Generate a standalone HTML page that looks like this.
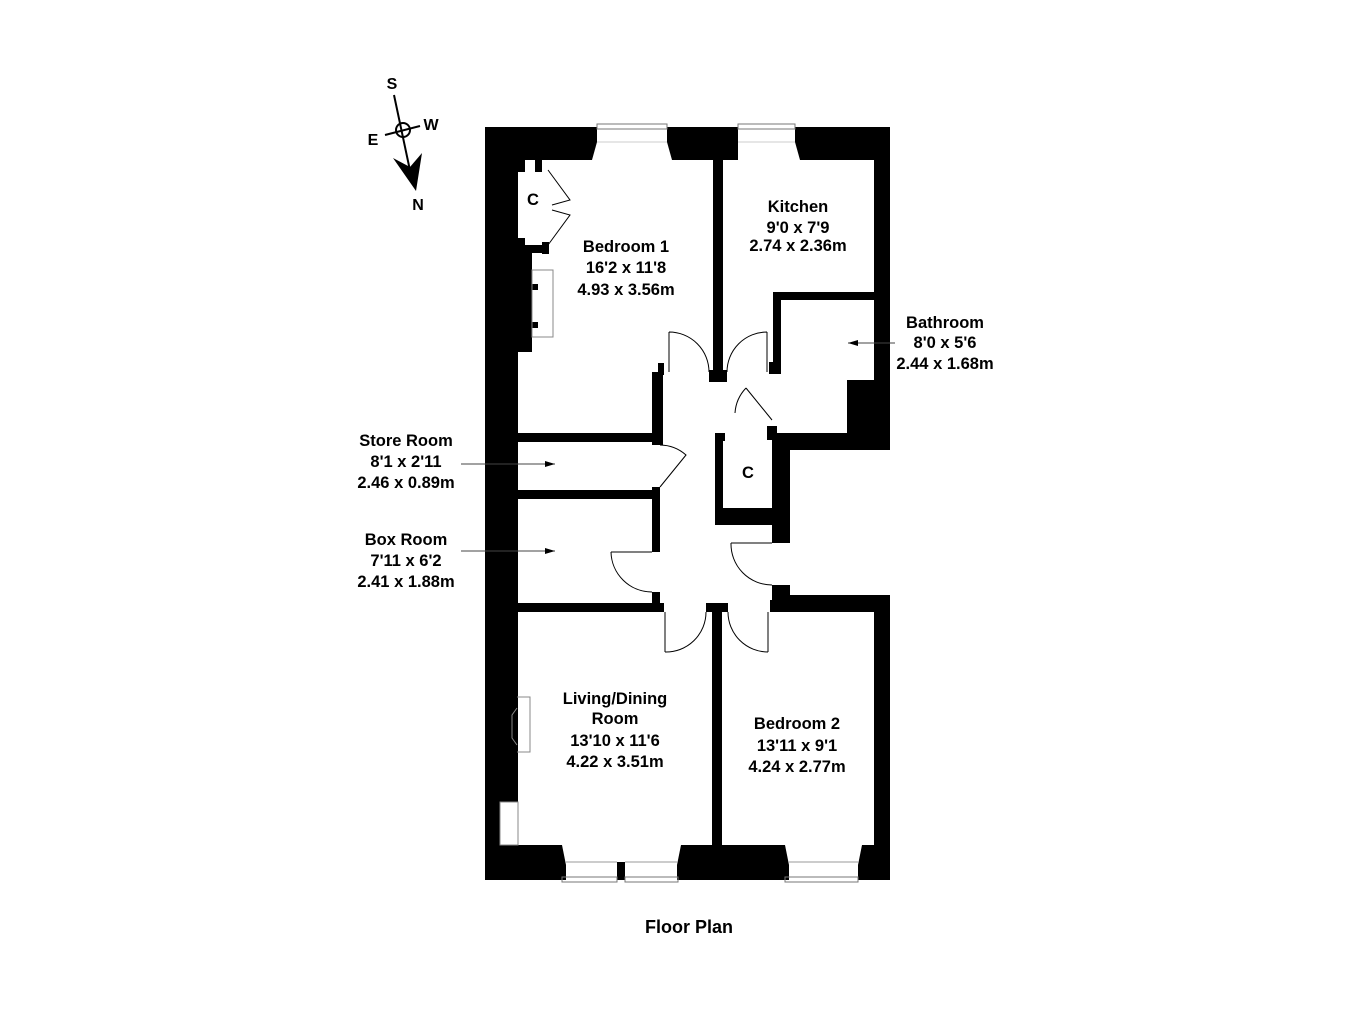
<!DOCTYPE html>
<html><head><meta charset="utf-8"><style>
html,body{margin:0;padding:0;background:#fff;}
svg{display:block;}
text{font-family:"Liberation Sans",Arial,sans-serif;font-weight:bold;fill:#000;}
</style></head><body>
<svg width="1350" height="1012" viewBox="0 0 1350 1012" xmlns="http://www.w3.org/2000/svg">
<rect width="1350" height="1012" fill="#fff"/>
<g fill="#000">
<polygon points="485,127 597,127 597,142 592,160 485,160"/>
<polygon points="667,127 738,127 738,160 672,160 667,142"/>
<polygon points="795,127 890,127 890,160 800,160 795,142"/>
<rect x="485" y="127" width="33" height="675"/>
<rect x="485" y="250" width="47" height="102"/>
<rect x="485" y="800" width="15" height="80"/>
<rect x="485" y="692" width="32" height="60"/>
<rect x="518" y="160" width="7" height="12"/><rect x="535" y="160" width="7" height="12"/>
<rect x="518" y="238" width="7" height="12"/><rect x="542" y="242" width="7" height="12"/>
<rect x="518" y="245" width="30" height="8"/>
<rect x="532" y="284" width="6" height="6"/><rect x="532" y="322" width="6" height="6"/>
<rect x="713" y="160" width="10" height="212"/>
<rect x="709" y="370" width="18" height="12"/>
<rect x="874" y="127" width="16" height="310"/>
<rect x="773" y="292" width="117" height="8"/>
<rect x="773" y="292" width="8" height="70"/>
<rect x="769" y="362" width="12" height="12"/>
<rect x="847" y="380" width="43" height="57"/>
<rect x="772" y="433" width="118" height="17"/>
<rect x="767" y="426" width="10" height="14"/>
<rect x="772" y="437" width="18" height="106"/>
<rect x="715" y="433" width="8" height="92"/>
<rect x="715" y="433" width="10" height="8"/>
<rect x="715" y="508" width="75" height="17"/>
<rect x="772" y="585" width="18" height="15"/>
<rect x="772" y="595" width="118" height="17"/>
<rect x="770" y="600" width="10" height="12"/>
<rect x="874" y="595" width="16" height="285"/>
<rect x="652" y="372" width="11" height="73"/>
<rect x="658" y="363" width="6" height="12"/>
<rect x="518" y="433" width="142" height="9"/>
<rect x="518" y="490" width="142" height="9"/>
<rect x="652" y="487" width="8" height="65"/>
<rect x="652" y="592" width="8" height="14"/>
<rect x="518" y="603" width="146" height="9"/>
<rect x="706" y="603" width="22" height="9"/>
<rect x="712" y="603" width="10" height="245"/>
<polygon points="485,845 562,845 566,865 566,880 485,880"/>
<rect x="617" y="862" width="8" height="18"/>
<polygon points="681,845 785,845 789,865 789,880 677,880 677,865"/>
<polygon points="862,845 890,845 890,880 858,880 858,865"/>
</g>
<g fill="none" stroke="#000" stroke-width="1">
<rect x="597" y="124" width="70" height="5" stroke="#777"/>
<rect x="738" y="124" width="57" height="5" stroke="#777"/>
<rect x="562" y="877" width="55" height="5" stroke="#777"/>
<rect x="625" y="877" width="53" height="5" stroke="#777"/>
<rect x="785" y="877" width="73" height="5" stroke="#777"/>
<line x1="566" y1="862" x2="617" y2="862" stroke="#999"/>
<line x1="625" y1="862" x2="677" y2="862" stroke="#999"/>
<line x1="789" y1="862" x2="858" y2="862" stroke="#999"/>
<line x1="597" y1="142" x2="667" y2="142" stroke="#ccc"/>
<line x1="738" y1="142" x2="795" y2="142" stroke="#ccc"/>
<rect x="532" y="270" width="21" height="67" stroke="#888"/>
<polyline points="517,697 530,697 530,752 517,752" stroke="#888"/>
<polyline points="517,708 512,715 512,738 517,745" stroke="#888"/>
<rect x="500" y="802" width="18" height="43" stroke="#888"/>
<path d="M548,170 L570,200 L552,205"/>
<path d="M548,245 L570,215 L552,210"/>
<path d="M669,332 L669,372 M669,332 A40,40 0 0 1 709,372"/>
<path d="M767,332 L767,372 M767,332 A40,40 0 0 0 727,372"/>
<path d="M746,388 L772,420 M746,388 A40,40 0 0 0 735,413"/>
<path d="M660,445 A40,40 0 0 1 686,455 L660,487"/>
<path d="M611,552 L652,552 M611,552 A41,41 0 0 0 652,592"/>
<path d="M731,543 L772,543 M731,543 A41,41 0 0 0 772,585"/>
<path d="M665,612 L665,652 M665,652 A40,40 0 0 0 706,612"/>
<path d="M768,612 L768,652 M768,652 A40,40 0 0 1 728,612"/>
<path d="M461,464 L555,464" stroke="#444"/>
<path d="M461,551 L555,551" stroke="#444"/>
<path d="M895,343 L848,343" stroke="#444"/>
</g>
<g fill="#000">
<polygon points="555,461 555,467 545,464" transform="rotate(180 550 464)"/>
<polygon points="555,548 555,554 545,551" transform="rotate(180 550 551)"/>
<polygon points="848,340 848,346 858,343" transform="rotate(180 853 343)"/>
</g>
<g stroke="#000" stroke-width="2" fill="none">
<line x1="394" y1="95" x2="412" y2="180"/>
<line x1="385" y1="135" x2="420" y2="126"/>
<circle cx="403" cy="130" r="7"/>
</g>
<polygon points="393,158 410,167 422,153 416,191" fill="#000"/>
<text x="392" y="89" font-size="16" text-anchor="middle">S</text>
<text x="373" y="145" font-size="16" text-anchor="middle">E</text>
<text x="431" y="130" font-size="16" text-anchor="middle">W</text>
<text x="418" y="210" font-size="16" text-anchor="middle">N</text>
<g font-size="16.5" text-anchor="middle">
<text x="533" y="205">C</text>
<text x="626" y="252">Bedroom 1</text>
<text x="626" y="273">16'2 x 11'8</text>
<text x="626" y="295">4.93 x 3.56m</text>
<text x="798" y="212">Kitchen</text>
<text x="798" y="233">9'0 x 7'9</text>
<text x="798" y="251">2.74 x 2.36m</text>
<text x="945" y="328">Bathroom</text>
<text x="945" y="348">8'0 x 5'6</text>
<text x="945" y="369">2.44 x 1.68m</text>
<text x="748" y="478">C</text>
<text x="406" y="446">Store Room</text>
<text x="406" y="467">8'1 x 2'11</text>
<text x="406" y="488">2.46 x 0.89m</text>
<text x="406" y="545">Box Room</text>
<text x="406" y="566">7'11 x 6'2</text>
<text x="406" y="587">2.41 x 1.88m</text>
<text x="615" y="704">Living/Dining</text>
<text x="615" y="724">Room</text>
<text x="615" y="746">13'10 x 11'6</text>
<text x="615" y="767">4.22 x 3.51m</text>
<text x="797" y="729">Bedroom 2</text>
<text x="797" y="751">13'11 x 9'1</text>
<text x="797" y="772">4.24 x 2.77m</text>
</g>
<text x="689" y="933" font-size="18" text-anchor="middle">Floor Plan</text>
</svg>
</body></html>
